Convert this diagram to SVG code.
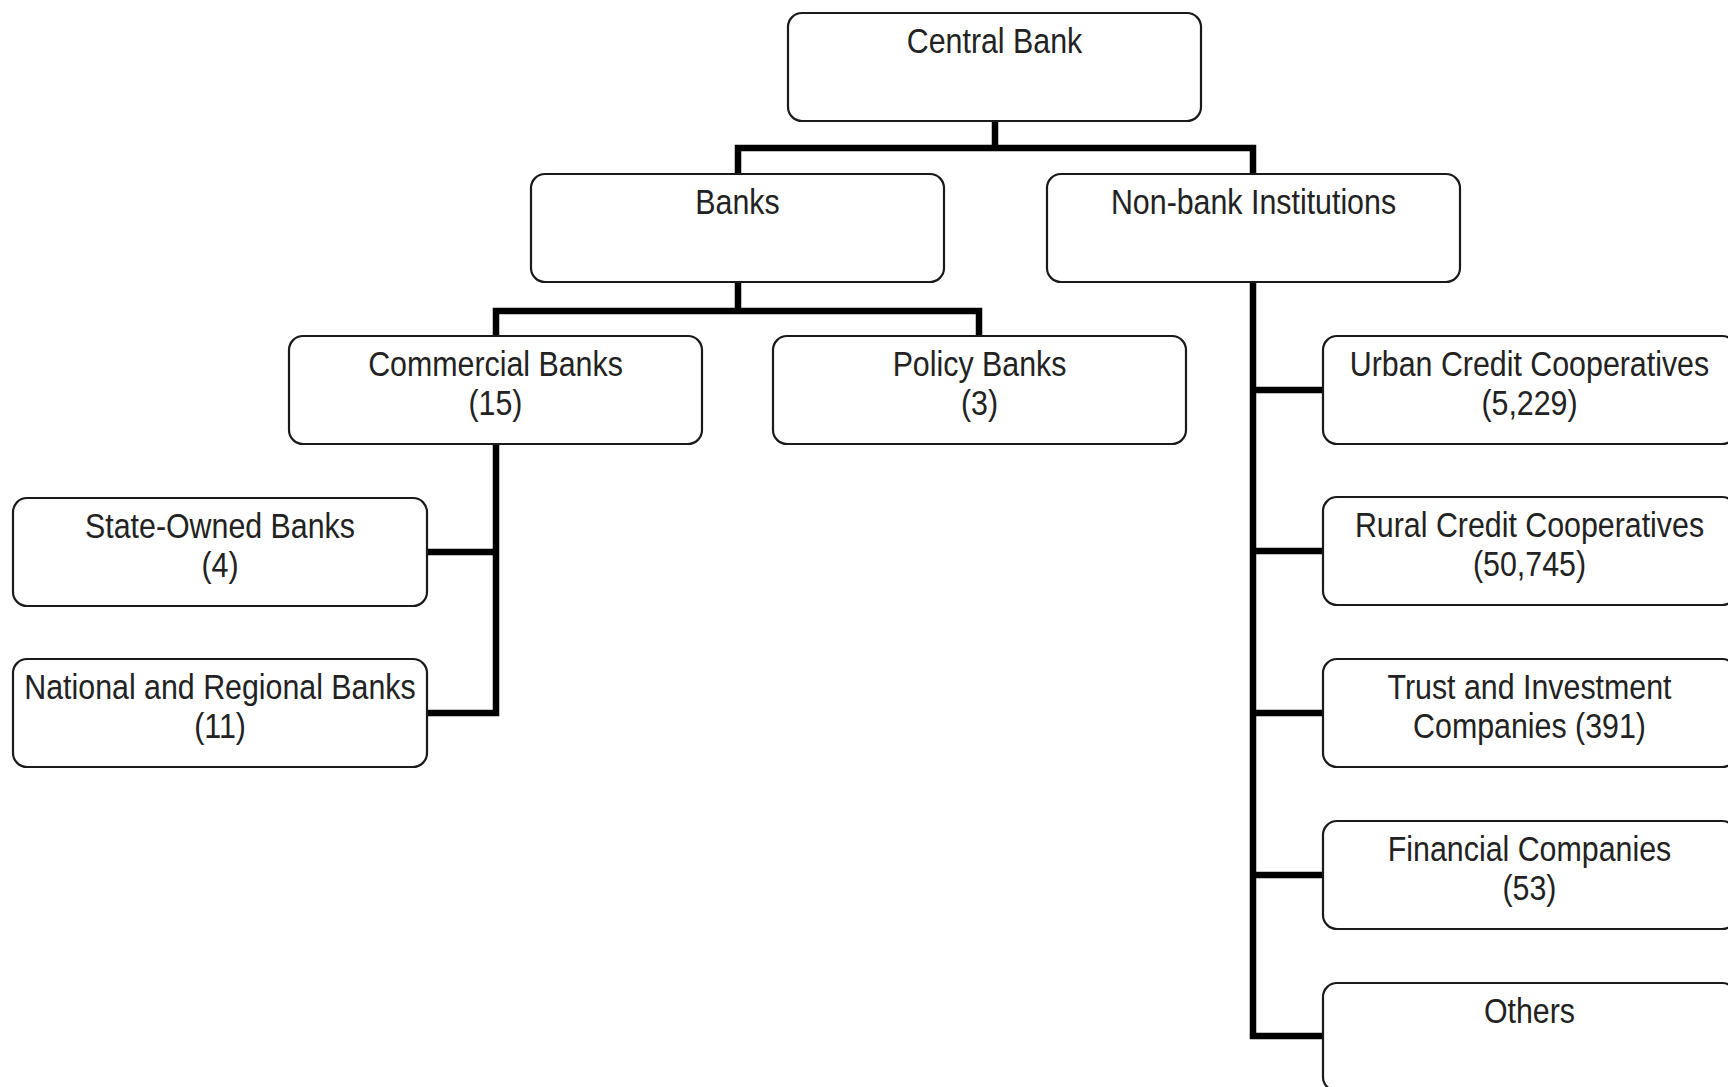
<svg xmlns="http://www.w3.org/2000/svg" width="1728" height="1087" viewBox="0 0 1728 1087">
<style>
.box{fill:#fff;stroke:#1a1a1a;stroke-width:2.2}
.t{font-family:"Liberation Sans",Arial,sans-serif;font-size:34.5px;fill:#222;text-anchor:middle}
.c{fill:none;stroke:#000;stroke-width:6.5;stroke-linejoin:miter;stroke-linecap:square}
</style>
<rect width="1728" height="1087" fill="#fff"/>
<g id="connectors">
<path class="c" d="M995 121V148M738 174V148H1253V174"/>
<path class="c" d="M738 282V311M496 336V311H979V336"/>
<path class="c" d="M496 444V713H427M496 552H427"/>
<path class="c" d="M1253 282V1036H1323M1253 390H1323M1253 551H1323M1253 713H1323M1253 875H1323"/>
</g>
<g id="central-bank"><rect class="box" x="788" y="13" width="413" height="108" rx="14"/>
<text class="t" transform="translate(994.5,53) scale(0.88,1)">Central Bank</text></g>
<g id="banks"><rect class="box" x="531" y="174" width="413" height="108" rx="14"/>
<text class="t" transform="translate(737.5,214) scale(0.88,1)">Banks</text></g>
<g id="non-bank"><rect class="box" x="1047" y="174" width="413" height="108" rx="14"/>
<text class="t" transform="translate(1253.5,214) scale(0.88,1)">Non-bank Institutions</text></g>
<g id="commercial-banks"><rect class="box" x="289" y="336" width="413" height="108" rx="14"/>
<text class="t" transform="translate(495.5,376) scale(0.88,1)">Commercial Banks</text>
<text class="t" transform="translate(495.5,415) scale(0.88,1)">(15)</text></g>
<g id="policy-banks"><rect class="box" x="773" y="336" width="413" height="108" rx="14"/>
<text class="t" transform="translate(979.5,376) scale(0.88,1)">Policy Banks</text>
<text class="t" transform="translate(979.5,415) scale(0.88,1)">(3)</text></g>
<g id="state-owned"><rect class="box" x="13" y="498" width="414" height="108" rx="14"/>
<text class="t" transform="translate(220,538) scale(0.88,1)">State-Owned Banks</text>
<text class="t" transform="translate(220,577) scale(0.88,1)">(4)</text></g>
<g id="national-regional"><rect class="box" x="13" y="659" width="414" height="108" rx="14"/>
<text class="t" transform="translate(220,699) scale(0.88,1)">National and Regional Banks</text>
<text class="t" transform="translate(220,738) scale(0.88,1)">(11)</text></g>
<g id="urban"><rect class="box" x="1323" y="336" width="413" height="108" rx="14"/>
<text class="t" transform="translate(1529.5,376) scale(0.88,1)">Urban Credit Cooperatives</text>
<text class="t" transform="translate(1529.5,415) scale(0.88,1)">(5,229)</text></g>
<g id="rural"><rect class="box" x="1323" y="497" width="413" height="108" rx="14"/>
<text class="t" transform="translate(1529.5,537) scale(0.88,1)">Rural Credit Cooperatives</text>
<text class="t" transform="translate(1529.5,576) scale(0.88,1)">(50,745)</text></g>
<g id="trust"><rect class="box" x="1323" y="659" width="413" height="108" rx="14"/>
<text class="t" transform="translate(1529.5,699) scale(0.88,1)">Trust and Investment</text>
<text class="t" transform="translate(1529.5,738) scale(0.88,1)">Companies (391)</text></g>
<g id="financial"><rect class="box" x="1323" y="821" width="413" height="108" rx="14"/>
<text class="t" transform="translate(1529.5,861) scale(0.88,1)">Financial Companies</text>
<text class="t" transform="translate(1529.5,900) scale(0.88,1)">(53)</text></g>
<g id="others"><rect class="box" x="1323" y="983" width="413" height="108" rx="14"/>
<text class="t" transform="translate(1529.5,1023) scale(0.88,1)">Others</text></g>
</svg>
